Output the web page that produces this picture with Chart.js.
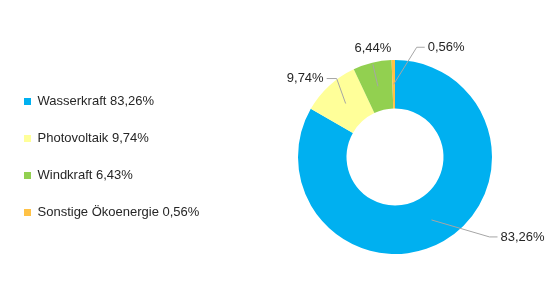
<!DOCTYPE html>
<html>
<head>
<meta charset="utf-8">
<script src="https://cdn.jsdelivr.net/npm/chart.js@4.4.0/dist/chart.umd.min.js"></script>
<style>
  html, body { margin: 0; padding: 0; background: #fff; }
</style>
</head>
<body>
<canvas id="chart" width="550" height="296"></canvas>
<script>
const categories = ['Wasserkraft', 'Photovoltaik', 'Windkraft', 'Sonstige Ökoenergie'];
const shares = [83.26, 9.74, 6.43, 0.56];
const legendValues = ['83,26%', '9,74%', '6,43%', '0,56%'];
const sliceLabels = ['83,26%', '9,74%', '6,44%', '0,56%'];
const colors = ['#00B0F0', '#FFFF99', '#92D050', '#FFC246'];

// where each data label sits relative to the slice centre point: [dx, dy, side]
const labelPlacement = [[58, 17, 'right'], [-9, -25, 'left'], [-5, -22, 'top'], [23, -37, 'right']];
const FONT = '"Liberation Sans", Arial, sans-serif';

const leaderLines = {
  id: 'leaderLines',
  afterDatasetsDraw(chart) {
    const ctx = chart.ctx;
    const arcs = chart.getDatasetMeta(0).data;
    ctx.save();
    ctx.font = '13px ' + FONT;
    ctx.textBaseline = 'middle';
    ctx.strokeStyle = '#A6A6A6';
    ctx.lineWidth = 1;
    arcs.forEach((arc, i) => {
      const p = arc.getCenterPoint();
      const [dx, dy, side] = labelPlacement[i];
      const ex = p.x + dx, ey = p.y + dy;
      let tx = ex, ty = ey;
      ctx.beginPath();
      ctx.moveTo(p.x, p.y);
      ctx.lineTo(ex, ey);
      if (side === 'right') {
        ctx.lineTo(ex + 8, ey);
        tx = ex + 11;
        ctx.textAlign = 'left';
      } else if (side === 'left') {
        ctx.lineTo(ex - 10, ey);
        tx = ex - 13;
        ctx.textAlign = 'right';
      } else {
        ty = ey - 16;
        ctx.textAlign = 'center';
      }
      ctx.stroke();
      ctx.fillStyle = '#262626';
      ctx.fillText(sliceLabels[i], tx, ty);
    });
    ctx.restore();
  }
};

// widen the legend box so the doughnut lands on the right side
const legendWidth = {
  id: 'legendWidth',
  beforeLayout(chart) {
    const legend = chart.legend;
    if (legend && !legend._widened) {
      const fit = legend.fit;
      legend.fit = function () { fit.call(this); this.width = 298; };
      legend._widened = true;
    }
  }
};

new Chart(document.getElementById('chart'), {
  type: 'doughnut',
  data: {
    labels: categories.map((c, i) => c + ' ' + legendValues[i]),
    datasets: [{
      data: shares,
      backgroundColor: colors,
      borderWidth: 0
    }]
  },
  options: {
    responsive: false,
    animation: false,
    cutout: '50%',
    layout: { padding: { top: 60, bottom: 42, right: 58, left: 0 } },
    plugins: {
      tooltip: { enabled: false },
      legend: {
        position: 'left',
        labels: {
          boxWidth: 7,
          boxHeight: 7,
          padding: 24,
          color: '#262626',
          font: { family: FONT, size: 13 }
        }
      }
    }
  },
  plugins: [legendWidth, leaderLines]
});
</script>
</body>
</html>
